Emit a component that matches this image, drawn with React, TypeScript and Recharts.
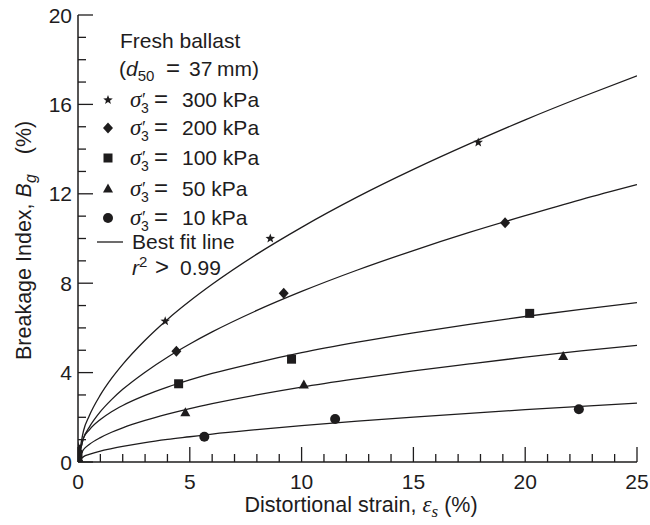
import React from 'react';
import { ComposedChart, Line, Scatter, XAxis, YAxis, Customized } from 'recharts';

// Measured points: distortional strain (%) vs breakage index Bg (%)
const strain300 = [0, 3.9, 8.6, 17.9];
const breakage300 = [0.7, 6.3, 10.0, 14.3];
const strain200 = [0, 4.4, 9.2, 19.1];
const breakage200 = [0.45, 4.95, 7.55, 10.7];
const strain100 = [0, 4.5, 9.55, 20.2];
const breakage100 = [0.35, 3.5, 4.6, 6.65];
const strain50 = [0, 4.8, 10.1, 21.7];
const breakage50 = [0.2, 2.2, 3.45, 4.72];
const strain10 = [0, 5.65, 11.5, 22.4];
const breakage10 = [0, 1.13, 1.92, 2.36];

// Best fit lines, sampled along the strain axis
const fitStrain = [0, 0.25, 0.5, 1, 1.5, 2, 3, 4, 5, 6, 8, 10, 12.5, 15, 17.5, 20, 22.5, 25];
const fit300 = [0, 1.41, 2.06, 3.0, 3.74, 4.37, 5.45, 6.38, 7.2, 7.95, 9.3, 10.5, 11.86, 13.09, 14.23, 15.31, 16.32, 17.28];
const fit200 = [0, 1.08, 1.55, 2.25, 2.79, 3.25, 4.02, 4.69, 5.28, 5.82, 6.78, 7.63, 8.59, 9.46, 10.27, 11.02, 11.74, 12.41];
const fit100 = [0, 1.08, 1.43, 1.9, 2.25, 2.53, 2.98, 3.35, 3.67, 3.96, 4.45, 4.89, 5.36, 5.78, 6.16, 6.51, 6.83, 7.13];
const fit50 = [0, 0.56, 0.78, 1.09, 1.33, 1.53, 1.86, 2.14, 2.39, 2.61, 3.0, 3.35, 3.73, 4.08, 4.39, 4.69, 4.97, 5.22];
const fit10 = [0, 0.24, 0.34, 0.49, 0.6, 0.7, 0.87, 1.01, 1.13, 1.25, 1.45, 1.63, 1.83, 2.01, 2.18, 2.34, 2.49, 2.63];

const xTicks = Array.from({ length: 26 }, (_, i) => i);
const yTicks = Array.from({ length: 21 }, (_, i) => i);
const xLabelEvery = 5;
const yLabelEvery = 4;

const pairs = (xs: number[], ys: number[]) => xs.map((x, i) => ({ x, y: ys[i] }));

const INK = '#1e1c1d';
const FONT = '"Liberation Sans", Arial, Helvetica, sans-serif';
const SERIF = '"Liberation Serif", "Times New Roman", serif';
const FS = 21;
const OP = 24; // relation symbols (=, >) are set a little larger, as in math type

type P = { cx?: number; cy?: number };

const StarMark = ({ cx = 0, cy = 0 }: P) => {
  const pts: string[] = [];
  for (let i = 0; i < 10; i++) {
    const r = i % 2 === 0 ? 5 : 2.1;
    const a = -Math.PI / 2 + (i * Math.PI) / 5;
    pts.push(`${cx + r * Math.cos(a)},${cy + r * Math.sin(a)}`);
  }
  return <polygon points={pts.join(' ')} fill={INK} />;
};
const DiamondMark = ({ cx = 0, cy = 0 }: P) => (
  <polygon points={`${cx},${cy - 5.5} ${cx + 5},${cy} ${cx},${cy + 5.5} ${cx - 5},${cy}`} fill={INK} />
);
const SquareMark = ({ cx = 0, cy = 0 }: P) => (
  <rect x={cx - 4.5} y={cy - 4.5} width={9} height={9} fill={INK} />
);
const TriangleMark = ({ cx = 0, cy = 0 }: P) => (
  <polygon points={`${cx},${cy - 5.5} ${cx + 5},${cy + 3.5} ${cx - 5},${cy + 3.5}`} fill={INK} />
);
const CircleMark = ({ cx = 0, cy = 0 }: P) => <circle cx={cx} cy={cy} r={5} fill={INK} />;

const YTick = (props: any) => {
  const { x, y, payload } = props;
  const major = payload.value % yLabelEvery === 0;
  return (
    <g>
      <line x1={x} x2={x + (major ? 15 : 8)} y1={y} y2={y} stroke={INK} strokeWidth={1.3} />
      {major && (
        <text x={x - 6} y={y} dy="0.36em" textAnchor="end" fontFamily={FONT} fontSize={FS} fill={INK}>
          {payload.value}
        </text>
      )}
    </g>
  );
};

const XTick = (props: any) => {
  const { x, y, payload } = props;
  const major = payload.value % xLabelEvery === 0;
  return (
    <g>
      <line x1={x} x2={x} y1={y} y2={y - (major ? 15 : 8)} stroke={INK} strokeWidth={1.3} />
      {major && (
        <text x={x} y={y + 27} textAnchor="middle" fontFamily={FONT} fontSize={FS} fill={INK}>
          {payload.value}
        </text>
      )}
    </g>
  );
};

// σ'3 = … kPa written as one text run so the prime sits above the subscript
const Sigma = ({ x, y, kpa }: { x: number; y: number; kpa: string }) => (
  <text x={x} y={y} fontFamily={FONT} fontSize={FS} fill={INK}>
    <tspan fontFamily={SERIF} fontStyle="italic" fontSize={23}>σ</tspan>
    <tspan x={x + 12} dy={-1} fontFamily={SERIF} fontSize={18}>′</tspan>
    <tspan x={x + 11} dy={7} fontSize={14}>3</tspan>
    <tspan x={x + 24} dy={-6} fontSize={OP}>=</tspan>
    <tspan x={x + 52}>{`${kpa} kPa`}</tspan>
  </text>
);

const legendRows = [
  { kpa: '300', Mark: StarMark, cy: 100 },
  { kpa: '200', Mark: DiamondMark, cy: 128 },
  { kpa: '100', Mark: SquareMark, cy: 158 },
  { kpa: '50', Mark: TriangleMark, cy: 189 },
  { kpa: '10', Mark: CircleMark, cy: 218 },
];

const Annotations = () => (
  <g fill={INK} fontFamily={FONT}>
    <text x={120} y={48} fontSize={FS}>Fresh ballast</text>
    <text x={119} y={76} fontSize={FS}>
      (<tspan fontStyle="italic">d</tspan>
      <tspan fontSize={15} dy={5}>50</tspan>
      <tspan x={166} dy={-5} fontSize={OP}>=</tspan>
      <tspan x={189}>37</tspan>
      <tspan x={217}>mm)</tspan>
    </text>
    {legendRows.map(({ kpa, Mark, cy }) => (
      <g key={kpa}>
        <Mark cx={108} cy={cy} />
        <Sigma x={130} y={cy + 7} kpa={kpa} />
      </g>
    ))}
    <line x1={97} x2={123} y1={242} y2={242} stroke={INK} strokeWidth={1.3} />
    <text x={132} y={249} fontSize={FS}>Best fit line</text>
    <text x={132} y={275} fontSize={FS}>
      <tspan fontStyle="italic">r</tspan>
      <tspan fontSize={15} dy={-8}>2</tspan>
      <tspan x={155} dy={8} fontSize={OP}>{'>'}</tspan>
      <tspan x={180}>0.99</tspan>
    </text>

    <text x={361} y={512} textAnchor="middle" fontSize={21.5}>
      Distortional strain,{' '}
      <tspan fontFamily={SERIF} fontStyle="italic" fontSize={23}>ε</tspan>
      <tspan fontFamily={SERIF} fontStyle="italic" fontSize={17} dy={5}>s</tspan>
      <tspan dy={-5}>{' (%)'}</tspan>
    </text>
    <text transform="translate(31,360) rotate(-90)" textAnchor="start" fontSize={21.5}>
      Breakage Index,{' '}
      <tspan fontStyle="italic">B</tspan>
      <tspan fontStyle="italic" fontSize={16} dy={5}>g</tspan>
      <tspan dx={20} dy={-5}>(%)</tspan>
    </text>
  </g>
);

const series = [
  { key: 's300', pts: pairs(strain300, breakage300), fit: pairs(fitStrain, fit300), shape: StarMark },
  { key: 's200', pts: pairs(strain200, breakage200), fit: pairs(fitStrain, fit200), shape: DiamondMark },
  { key: 's100', pts: pairs(strain100, breakage100), fit: pairs(fitStrain, fit100), shape: SquareMark },
  { key: 's50', pts: pairs(strain50, breakage50), fit: pairs(fitStrain, fit50), shape: TriangleMark },
  { key: 's10', pts: pairs(strain10, breakage10), fit: pairs(fitStrain, fit10), shape: CircleMark },
];

export default function App() {
  return (
    <div style={{ position: 'absolute', left: 0, top: 0, width: 650, height: 525, background: '#fff' }}>
      <ComposedChart width={650} height={525} margin={{ top: 15, right: 13, bottom: 0, left: 0 }}>
        <XAxis
          type="number"
          dataKey="x"
          domain={[0, 25]}
          ticks={xTicks}
          interval={0}
          height={63}
          tickSize={0}
          tickMargin={0}
          tickLine={false}
          tick={<XTick />}
          axisLine={{ stroke: INK, strokeWidth: 1.5 }}
          allowDataOverflow
        />
        <XAxis xAxisId="top" orientation="top" type="number" domain={[0, 25]} height={0} tick={false} tickLine={false} axisLine={{ stroke: INK, strokeWidth: 1.5 }} />
        <YAxis
          type="number"
          domain={[0, 20]}
          ticks={yTicks}
          interval={0}
          width={78}
          tickSize={0}
          tickMargin={0}
          tickLine={false}
          tick={<YTick />}
          axisLine={{ stroke: INK, strokeWidth: 1.5 }}
          allowDataOverflow
        />
        <YAxis yAxisId="right" orientation="right" type="number" domain={[0, 20]} width={0} tick={false} tickLine={false} axisLine={{ stroke: INK, strokeWidth: 1.5 }} />
        {series.map((s) => (
          <Line
            key={`fit-${s.key}`}
            data={s.fit}
            dataKey="y"
            type="monotone"
            stroke={INK}
            strokeWidth={1.3}
            dot={false}
            activeDot={false}
            isAnimationActive={false}
          />
        ))}
        {series.map((s) => (
          <Scatter key={s.key} data={s.pts} dataKey="y" shape={s.shape} isAnimationActive={false} />
        ))}
        <Customized component={Annotations} />
      </ComposedChart>
    </div>
  );
}
